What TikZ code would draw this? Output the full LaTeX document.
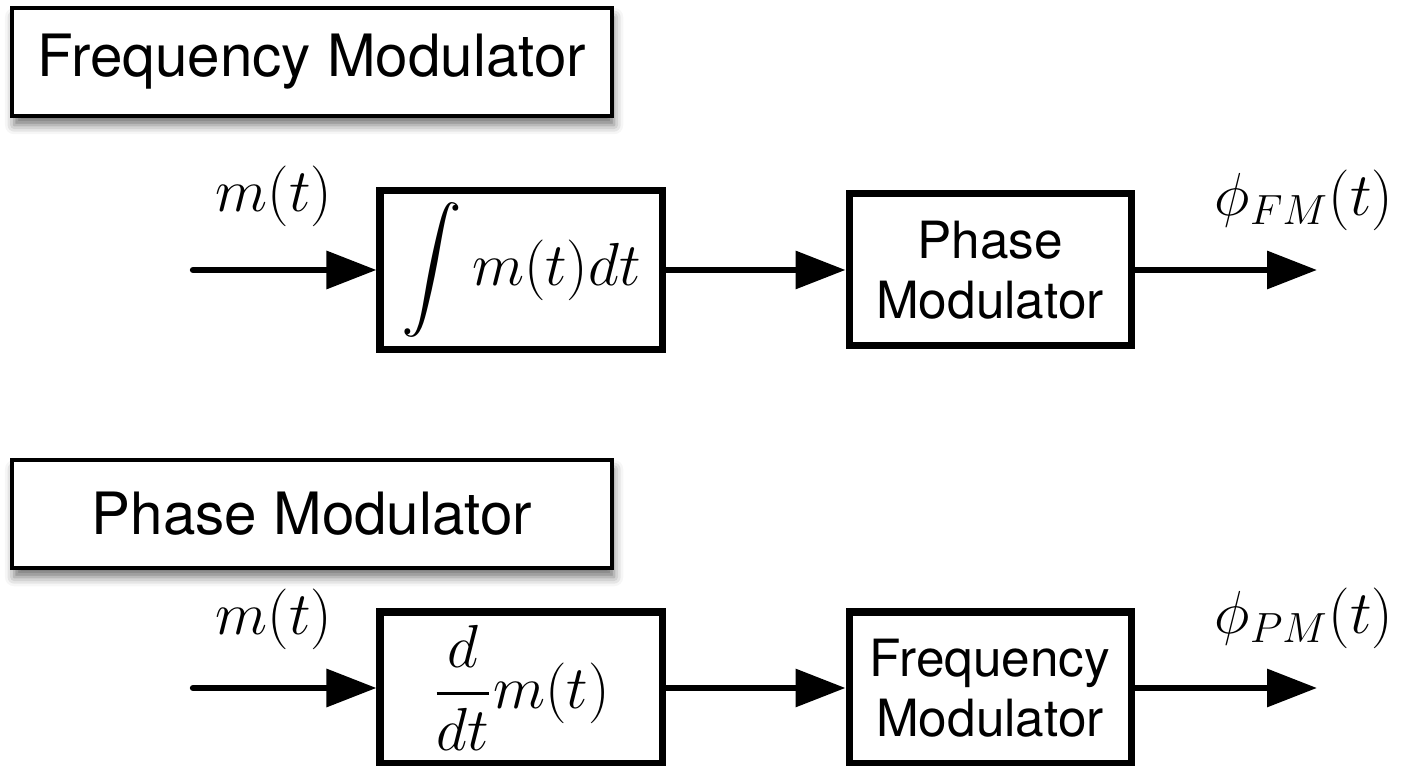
\documentclass[tikz,border=0pt]{standalone}
\usepackage{amsmath}
\usepackage{fontspec}
\newfontfamily\heros{TeX Gyre Heros}
\usetikzlibrary{arrows.meta,positioning,shadows,shadows.blur}

\begin{document}
\begin{tikzpicture}[>={Triangle[length=5mm,width=3.7mm]},
	line width=1.8pt, line cap=round,
	titlebox/.style={draw, line width=0.9pt, fill=white, minimum width=6cm, minimum height=1.08cm,
		font=\heros\fontsize{16.6}{19}\selectfont,
		blur shadow={shadow xshift=0.6pt, shadow yshift=-2.6pt, shadow blur radius=2.6pt, shadow opacity=55}},
	block/.style={draw, line width=2pt, line cap=butt, minimum width=2.82cm, minimum height=1.52cm,
		align=center, font=\heros\fontsize{14.6}{17}\selectfont},
	opmath/.style={font=\fontsize{17}{20}\selectfont},
	sig/.style={font=\fontsize{16.3}{19}\selectfont},
	outsig/.style={font=\fontsize{17.6}{20}\selectfont}
	]
\useasboundingbox (0,0) rectangle (14.01,7.66);
% FM
\node[titlebox] (fmtitle) at (3.12,7.04) {Frequency Modulator};
\node[block, opmath] (int) at (5.21,4.96) {$\displaystyle\int m(t)dt$};
\node[block] (pm) [right=1.8cm of int] {Phase\\Modulator};
\coordinate (in1) at (1.93,4.96);
\coordinate (out1) at (13.17,4.96);
\node[sig] (m1) at (2.74,5.70) {$m(t)$};
\node[outsig] (phifm) at (13.04,5.66) {$\phi_{FM}(t)$};
\draw[->] (in1) -- (int);
\draw[->] (int) -- (pm);
\draw[->] (pm) -- (out1);
% PM
\node[titlebox] (pmtitle) at (3.12,2.52) {Phase Modulator};
\node[block, opmath] (diff) at (5.21,0.78) {$\displaystyle\frac{d}{dt}m(t)$};
\node[block] (fm) [right=1.8cm of diff] {Frequency\\Modulator};
\coordinate (in2) at (1.93,0.78);
\coordinate (out2) at (13.17,0.78);
\node[sig] (m2) at (2.74,1.47) {$m(t)$};
\node[outsig] (phipm) at (13.04,1.48) {$\phi_{PM}(t)$};
\draw[->] (in2) -- (diff);
\draw[->] (diff) -- (fm);
\draw[->] (fm) -- (out2);
\end{tikzpicture}
\end{document}
